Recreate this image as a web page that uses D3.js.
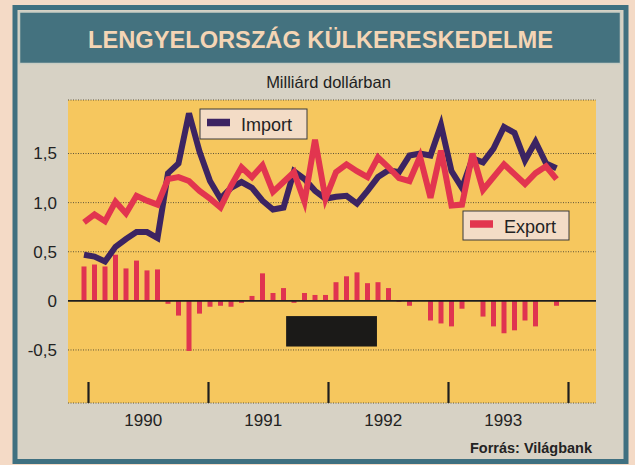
<!DOCTYPE html>
<html>
<head>
<meta charset="utf-8">
<script src="https://cdn.jsdelivr.net/npm/d3@7"></script>
<style>
  body { margin: 0; background: #f4dac6; }
  svg { display: block; }
  text { font-family: "Liberation Sans", Arial, Helvetica, sans-serif; }
</style>
</head>
<body>
<svg id="chart" width="635" height="465"></svg>
<script>
// havi adatok, 1990 jan. - 1993 okt. (milliárd dollár)
const years = [1990, 1991, 1992, 1993]
const importValues = [
  0.47, 0.45, 0.40, 0.55, 0.63, 0.70, 0.70, 0.64, 1.30, 1.40,
  1.91, 1.52, 1.22, 1.04, 1.15, 1.21, 1.15, 1.02, 0.93, 0.95,
  1.32, 1.24, 1.12, 1.04, 1.06, 1.07, 0.99, 1.12, 1.26, 1.33,
  1.31, 1.48, 1.50, 1.48, 1.79, 1.32, 1.15, 1.45, 1.41, 1.55,
  1.77, 1.71, 1.43, 1.62, 1.40, 1.35
]
const exportValues = [
  0.80, 0.88, 0.81, 1.01, 0.89, 1.07, 1.02, 0.98, 1.24, 1.26,
  1.22, 1.12, 1.04, 0.95, 1.17, 1.36, 1.26, 1.38, 1.11, 1.21,
  1.31, 1.01, 1.64, 1.04, 1.31, 1.39, 1.32, 1.26, 1.46, 1.36,
  1.25, 1.22, 1.47, 1.05, 1.53, 0.97, 0.98, 1.50, 1.13, 1.26,
  1.39, 1.29, 1.19, 1.30, 1.37, 1.24
]
const balanceValues = [
  0.35, 0.37, 0.35, 0.47, 0.33, 0.41, 0.31, 0.32, -0.03, -0.15,
  -0.51, -0.13, -0.06, -0.05, -0.06, -0.02, 0.05, 0.28, 0.08, 0.13,
  -0.02, 0.08, 0.06, 0.06, 0.19, 0.25, 0.29, 0.18, 0.19, 0.13,
  -0.01, -0.05, 0, -0.20, -0.23, -0.26, -0.08, 0, -0.16, -0.26,
  -0.33, -0.30, -0.20, -0.26, 0, -0.05
]
const yTicks = [-0.5, 0, 0.5, 1.0, 1.5]
const yTickLabels = ['-0,5', '0', '0,5', '1,0', '1,5']

const colors = { imp: '#3c2462', exp: '#e2354f', bar: '#e03450' }
const plot = { left: 68, right: 596, top: 100, bottom: 403 }

const svg = d3.select('#chart')

// keret
svg.append('rect').attr('x', 12.5).attr('y', 5).attr('width', 616).attr('height', 459).attr('fill', '#3f7080')
svg.append('rect').attr('x', 17.5).attr('y', 10).attr('width', 606).attr('height', 449).attr('fill', '#d7d2c5')
svg.append('rect').attr('x', 19.5).attr('y', 12).attr('width', 601).attr('height', 51.5)
  .attr('fill', '#44727f').attr('stroke', '#c8cdc4').attr('stroke-width', 1.5)

svg.append('text').attr('x', 320.5).attr('y', 47.5).attr('text-anchor', 'middle')
  .attr('textLength', 465).attr('lengthAdjust', 'spacingAndGlyphs')
  .style('font-size', '23px').style('font-weight', 'bold').style('fill', '#f4d5b5')
  .text('LENGYELORSZÁG KÜLKERESKEDELME')

svg.append('text').attr('x', 328.5).attr('y', 87.5).attr('text-anchor', 'middle')
  .style('font-size', '16.5px').style('fill', '#1e1e1e')
  .text('Milliárd dollárban')

// rajzterület
svg.append('rect').attr('x', plot.left).attr('y', plot.top)
  .attr('width', plot.right - plot.left).attr('height', plot.bottom - plot.top).attr('fill', '#f6c75e')

const x = d3.scaleLinear().domain([0, importValues.length - 1]).range([84, 556.5])
const xYear = d3.scaleLinear().domain([1990, 1994]).range([88, 568])
const y = d3.scaleLinear().domain([-1.04, 2.045]).range([plot.bottom, plot.top])

// segédvonalak
const grid = yTicks.filter(d => d !== 0).map(d => y(d)).concat([plot.top, plot.bottom])
svg.append('g').selectAll('line').data(grid).enter().append('line')
  .attr('x1', plot.left).attr('x2', plot.right).attr('y1', d => d).attr('y2', d => d)
  .attr('stroke', '#5e553a').attr('stroke-width', 1).attr('stroke-dasharray', '1,1.5')

// y tengely feliratok
const yAxis = svg.append('g').attr('transform', `translate(${plot.left},0)`)
  .call(d3.axisLeft(y).tickValues(yTicks).tickSize(0).tickPadding(11)
    .tickFormat((d, i) => yTickLabels[i]))
yAxis.select('.domain').remove()
yAxis.selectAll('text').style('font-size', '17px').style('fill', '#232323')
  .style('font-family', '"Liberation Sans", Arial, sans-serif')

// évek
const xAxis = svg.append('g').attr('transform', `translate(0,${plot.bottom})`)
  .call(d3.axisBottom(xYear).tickValues([1990, 1991, 1992, 1993, 1994]).tickSize(-21).tickFormat(''))
xAxis.select('.domain').remove()
xAxis.selectAll('line').attr('stroke', '#1e1e1e').attr('stroke-width', 2.2)

svg.append('g').selectAll('text').data(years).enter().append('text')
  .attr('x', d => xYear(d + 0.46)).attr('y', 426).attr('text-anchor', 'middle')
  .style('font-size', '17px').style('fill', '#232323')
  .text(d => d)

// egyenleg oszlopok
const barWidth = 5
svg.append('g').selectAll('rect').data(balanceValues).enter().append('rect')
  .attr('x', (d, i) => x(i) - barWidth / 2)
  .attr('y', d => y(Math.max(0, d)))
  .attr('width', barWidth)
  .attr('height', d => Math.abs(y(d) - y(0)))
  .attr('fill', colors.bar)

// nulla vonal
svg.append('line').attr('x1', plot.left).attr('x2', plot.right).attr('y1', y(0)).attr('y2', y(0))
  .attr('stroke', '#1e1e1e').attr('stroke-width', 1.6)

// kitakart mező
const blackout = { from: 19.25, to: 27.9, top: -0.155, bottom: -0.465 }
svg.append('rect').attr('x', x(blackout.from)).attr('y', y(blackout.top))
  .attr('width', x(blackout.to) - x(blackout.from)).attr('height', y(blackout.bottom) - y(blackout.top))
  .attr('fill', '#1b1a18')

// vonalak
const line = d3.line().x((d, i) => x(i)).y(d => y(d))
svg.append('path').datum(importValues).attr('d', line)
  .attr('fill', 'none').attr('stroke', colors.imp).attr('stroke-width', 6).attr('stroke-linejoin', 'miter')
svg.append('path').datum(exportValues).attr('d', line)
  .attr('fill', 'none').attr('stroke', colors.exp).attr('stroke-width', 6).attr('stroke-linejoin', 'miter')

// jelmagyarázat
function legend(x0, y0, w, h, color, label) {
  const g = svg.append('g').attr('transform', `translate(${x0},${y0})`)
  g.append('rect').attr('width', w).attr('height', h).attr('fill', '#f3dcc6')
    .attr('stroke', '#3a3a3a').attr('stroke-width', 1)
  g.append('line').attr('x1', 7).attr('x2', 30).attr('y1', h / 2 - 1.5).attr('y2', h / 2 - 1.5)
    .attr('stroke', color).attr('stroke-width', 7.5)
  g.append('text').attr('x', 41).attr('y', h / 2 + 7).style('font-size', '18px').style('fill', '#232323')
    .text(label)
}
legend(200, 109, 107, 30, colors.imp, 'Import')
legend(463, 211, 106, 29, colors.exp, 'Export')

svg.append('text').attr('x', 592).attr('y', 453).attr('text-anchor', 'end')
  .attr('textLength', 122).attr('lengthAdjust', 'spacingAndGlyphs')
  .style('font-size', '15px').style('font-weight', 'bold').style('fill', '#232323')
  .text('Forrás: Világbank')
</script>
</body>
</html>
